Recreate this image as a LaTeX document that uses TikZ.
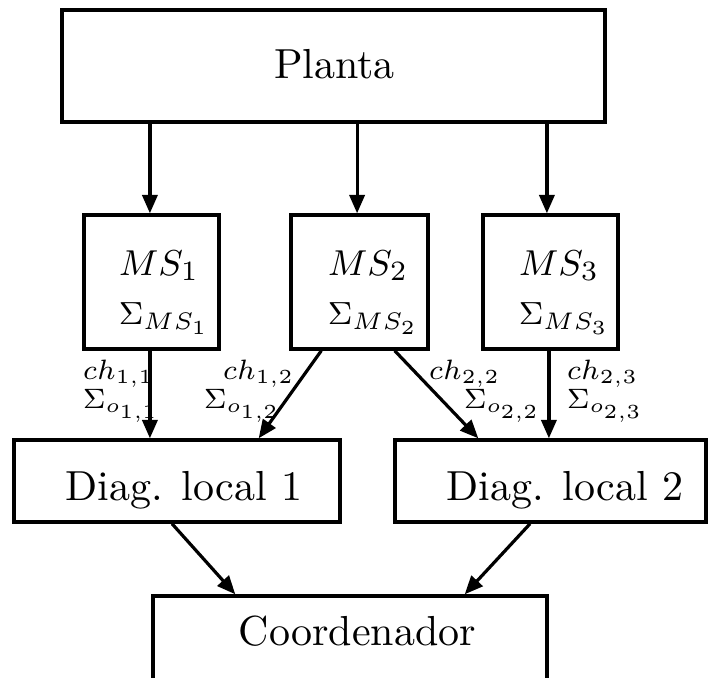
\documentclass[tikz,border=0pt]{standalone}
\usetikzlibrary{arrows.meta}
\begin{document}
\begin{tikzpicture}[x=0.25pt,y=-0.25pt,
  box/.style={draw, line width=0.85pt, rectangle, inner sep=0pt},
  txt/.style={inner sep=0pt, font=\fontsize{10.5}{12.6}\selectfont},
  mstxt/.style={inner sep=0pt, font=\fontsize{9.4}{11.2}\selectfont},
  sigtxt/.style={inner sep=0pt, font=\fontsize{8.2}{9.8}\selectfont},
  lbl/.style={inner sep=0pt, font=\fontsize{6.8}{8.2}\selectfont},
  arr/.style={line width=0.8pt, -{Triangle[length=4.6pt,width=3.8pt]}}]
\clip (0,0) rectangle (709,677);
% boxes
\node[box, minimum width=135.75pt, minimum height=28pt] (planta) at (333.5,66) {};
\node[box, minimum width=33.75pt, minimum height=33.5pt] (ms1) at (151.5,282) {};
\node[box, minimum width=34.25pt, minimum height=33.5pt] (ms2) at (359.5,282) {};
\node[box, minimum width=33.75pt, minimum height=33.5pt] (ms3) at (550.5,282) {};
\node[box, minimum width=81.5pt, minimum height=20.5pt] (diag1) at (177,481) {};
\node[box, minimum width=77.75pt, minimum height=20.5pt] (diag2) at (550.5,481) {};
\node[box, minimum width=98.5pt, minimum height=30pt] (coord) at (350,656) {};
% texts
\node[txt, anchor=base] (tplanta) at (334.5,78) {Planta};
\node[mstxt, anchor=base west] (tms1) at (118,275) {$MS_1$};
\node[sigtxt, anchor=base west] (sms1) at (118,324) {$\Sigma_{MS_1}$};
\node[mstxt, anchor=base west] (tms2) at (327,275) {$MS_2$};
\node[sigtxt, anchor=base west] (sms2) at (327,324) {$\Sigma_{MS_2}$};
\node[mstxt, anchor=base west] (tms3) at (518,275) {$MS_3$};
\node[sigtxt, anchor=base west] (sms3) at (518,324) {$\Sigma_{MS_3}$};
\node[txt, anchor=base west] (tdiag1) at (65,500) {Diag. local 1};
\node[txt, anchor=base west] (tdiag2) at (446,500) {Diag. local 2};
\node[txt, anchor=base west] (tcoord) at (238,645) {Coordenador};
% connector labels
\node[lbl, anchor=base west] (c11) at (82,379) {$ch_{1,1}$};
\node[lbl, anchor=base west] (s11) at (82,408) {$\Sigma_{o_{1,1}}$};
\node[lbl, anchor=base west] (c12) at (222,379) {$ch_{1,2}$};
\node[lbl, anchor=base west] (s12) at (203,408) {$\Sigma_{o_{1,2}}$};
\node[lbl, anchor=base west] (c22) at (428,379) {$ch_{2,2}$};
\node[lbl, anchor=base west] (s22) at (463,408) {$\Sigma_{o_{2,2}}$};
\node[lbl, anchor=base west] (c23) at (566,379) {$ch_{2,3}$};
\node[lbl, anchor=base west] (s23) at (566,408) {$\Sigma_{o_{2,3}}$};
% connectors
\draw[arr] ([xshift=-0.4pt]planta.south -| ms1) -- ([xshift=-0.4pt]ms1.north);
\draw[arr] ([xshift=-0.6pt]planta.south -| ms2) -- ([xshift=-0.6pt]ms2.north);
\draw[arr] ([xshift=-0.9pt]planta.south -| ms3) -- ([xshift=-0.9pt]ms3.north);
\draw[arr] ([xshift=-0.4pt]ms1.south) -- ([xshift=-0.4pt]ms1.south |- diag1.north);
\draw[arr] ([xshift=8pt]ms2.south west) -- ([xshift=-20.75pt]diag1.north east);
\draw[arr] ([xshift=-8.75pt]ms2.south east) -- ([xshift=21.25pt]diag2.north west);
\draw[arr] ([xshift=-0.4pt]ms3.south) -- ([xshift=-0.4pt]ms3.south |- diag2.north);
\draw[arr] ([xshift=-1.25pt]diag1.south) -- ([xshift=21pt]coord.north west);
\draw[arr] ([xshift=-5.1pt]diag2.south) -- ([xshift=-21pt]coord.north east);
\end{tikzpicture}
\end{document}
